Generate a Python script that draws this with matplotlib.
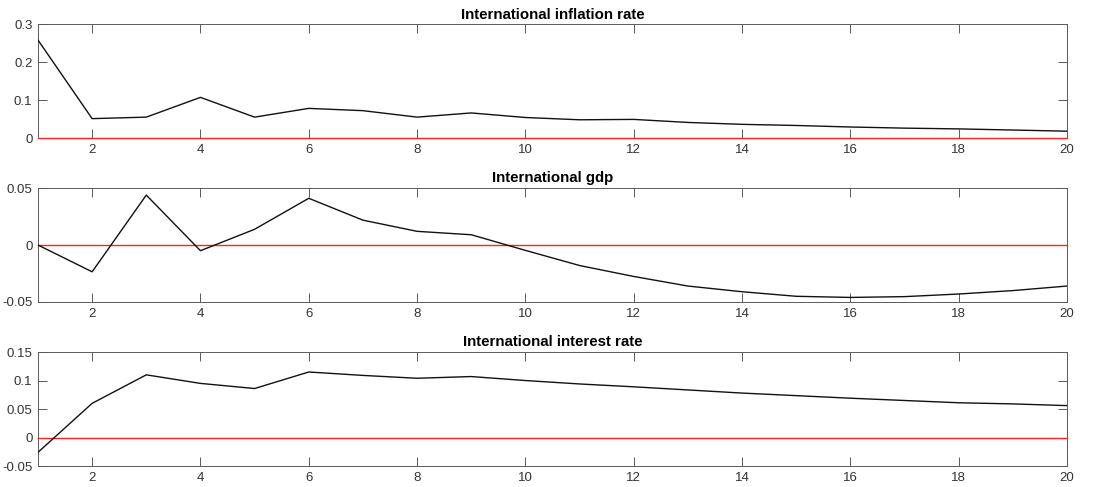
import matplotlib
matplotlib.use("Agg")
import matplotlib.pyplot as plt
from matplotlib.ticker import FuncFormatter, MultipleLocator

periods = list(range(1, 21))

inflation = [0.258, 0.051, 0.055, 0.107, 0.055, 0.078, 0.072, 0.055, 0.066, 0.054,
             0.048, 0.049, 0.041, 0.036, 0.033, 0.029, 0.026, 0.024, 0.021, 0.018]
gdp = [0.0, -0.0235, 0.0438, -0.005, 0.0138, 0.041, 0.0218, 0.012, 0.009, -0.0047,
       -0.018, -0.0276, -0.036, -0.041, -0.045, -0.046, -0.0453, -0.043, -0.040, -0.036]
interest = [-0.026, 0.060, 0.110, 0.095, 0.086, 0.115, 0.109, 0.104, 0.107, 0.100,
            0.094, 0.089, 0.0835, 0.078, 0.0735, 0.069, 0.065, 0.061, 0.059, 0.056]

titles = ["International inflation rate", "International gdp", "International interest rate"]
series = [inflation, gdp, interest]
ylims = [(0, 0.3), (-0.05, 0.05), (-0.05, 0.15)]
ysteps = [0.1, 0.05, 0.05]

plt.rcParams['font.family'] = ['Liberation Sans', 'DejaVu Sans']

fig = plt.figure(figsize=(11.2, 4.87), dpi=100)
left, width = 0.0339, 0.9188
bottoms = [0.7166, 0.3799, 0.0431]
height = 0.234

axis_col = '#5a5a5a'
text_col = '#333333'

for i in range(3):
    ax = fig.add_axes([left, bottoms[i], width, height])
    ax.axhline(0, color='#ff2020', lw=1.0, zorder=4, clip_on=False)
    ax.plot(periods, series[i], color='#111111', lw=1.0, zorder=5)
    ax.set_xlim(1, 20)
    ax.set_ylim(*ylims[i])
    ax.xaxis.set_major_locator(MultipleLocator(2))
    ax.yaxis.set_major_locator(MultipleLocator(ysteps[i]))
    ax.yaxis.set_major_formatter(FuncFormatter(lambda v, p: '%g' % round(v, 4)))
    ax.tick_params(direction='in', length=6.5, width=0.7, colors=axis_col,
                   labelcolor=text_col, labelsize=9.5, top=True, right=True, pad=4)
    for s in ax.spines.values():
        s.set_color(axis_col)
        s.set_linewidth(0.7)
    ax.set_title(titles[i], fontsize=10.8, fontweight='bold', color='black', pad=4)

fig.savefig("out.png", dpi=100)
